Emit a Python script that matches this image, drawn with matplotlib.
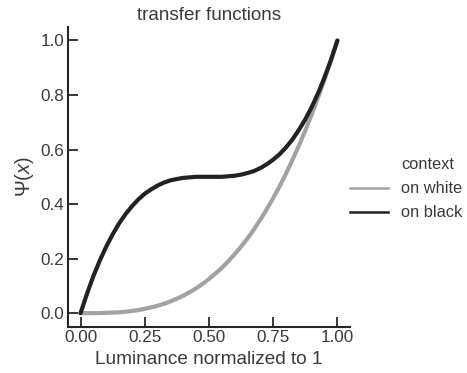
import numpy as np
import matplotlib
matplotlib.use("Agg")
import matplotlib.pyplot as plt
from matplotlib.lines import Line2D

plt.rcParams['font.family'] = ['Liberation Sans', 'DejaVu Sans']
plt.rcParams['mathtext.fontset'] = 'custom'
plt.rcParams['mathtext.rm'] = 'Liberation Sans'
plt.rcParams['mathtext.it'] = 'Liberation Sans:italic'

# Luminance grid (normalized to 1)
luminance = np.linspace(0.0, 1.0, 41)

# Transfer function on a white surround
psi_on_white = [
    0.000, 0.000, 0.000, 0.000, 0.001, 0.002, 0.003, 0.005, 0.008, 0.011,
    0.016, 0.021, 0.027, 0.034, 0.043, 0.053, 0.064, 0.077, 0.091, 0.107,
    0.125, 0.145, 0.166, 0.190, 0.216, 0.244, 0.274, 0.307, 0.343, 0.381,
    0.422, 0.465, 0.512, 0.562, 0.614, 0.670, 0.729, 0.792, 0.857, 0.927,
    1.000,
]

# Transfer function on a black surround
psi_on_black = [
    0.000, 0.071, 0.136, 0.193, 0.244, 0.289, 0.329, 0.363, 0.392, 0.417,
    0.438, 0.454, 0.468, 0.479, 0.487, 0.492, 0.496, 0.498, 0.500, 0.500,
    0.500, 0.500, 0.500, 0.502, 0.504, 0.508, 0.514, 0.521, 0.532, 0.546,
    0.563, 0.583, 0.608, 0.637, 0.672, 0.711, 0.756, 0.807, 0.865, 0.929,
    1.000,
]

hue_name = "context"
series_labels = ["on white", "on black"]
series_colors = ["#a2a2a2", "#222222"]
x_ticks = [0.0, 0.25, 0.5, 0.75, 1.0]
y_ticks = [0.0, 0.2, 0.4, 0.6, 0.8, 1.0]

text_color = "#3a3a3a"
spine_color = "#262626"

fig = plt.figure(figsize=(4.67, 3.73), dpi=100)
ax = fig.add_axes([0.145, 0.124, 0.605, 0.804])

for values, label, color in zip([psi_on_white, psi_on_black], series_labels, series_colors):
    ax.plot(luminance, values, color=color, lw=3.0, label=label,
            solid_capstyle='round')

ax.set_xticks(x_ticks)
ax.set_yticks(y_ticks)
ax.set_xticklabels([f"{t:.2f}" for t in x_ticks])
ax.set_yticklabels([f"{t:.1f}" for t in y_ticks])
ax.margins(0.05)

for side in ("top", "right"):
    ax.spines[side].set_visible(False)
for side in ("left", "bottom"):
    ax.spines[side].set_color(spine_color)
    ax.spines[side].set_linewidth(1.5)

ax.tick_params(direction='in', length=7, width=1.3, color=spine_color,
               labelsize=12.3, labelcolor=text_color, pad=2.5)

ax.set_xlabel("Luminance normalized to 1", fontsize=13.7, color=text_color, labelpad=4.5)
ax.set_ylabel(r"$\Psi(x)$", fontsize=14.5, color=text_color, labelpad=3)
ax.set_title("transfer functions", fontsize=13.6, color=text_color, pad=5)

# Legend with the hue name as a blank first entry
handles, labels = ax.get_legend_handles_labels()
title_handle = Line2D([], [], linestyle='none', marker='none')
leg_lines = [Line2D([], [], color=h.get_color(), lw=1.8) for h in handles]
leg = fig.legend([title_handle] + leg_lines, [hue_name] + labels,
                 frameon=False, loc="center left",
                 bbox_to_anchor=(0.7495, 0.4937), borderpad=0,
                 borderaxespad=0, fontsize=11.8, handlelength=2.3,
                 handletextpad=0.8, labelspacing=0.55)
for t in leg.get_texts():
    t.set_color(text_color)

fig.savefig("out.png", dpi=100)
